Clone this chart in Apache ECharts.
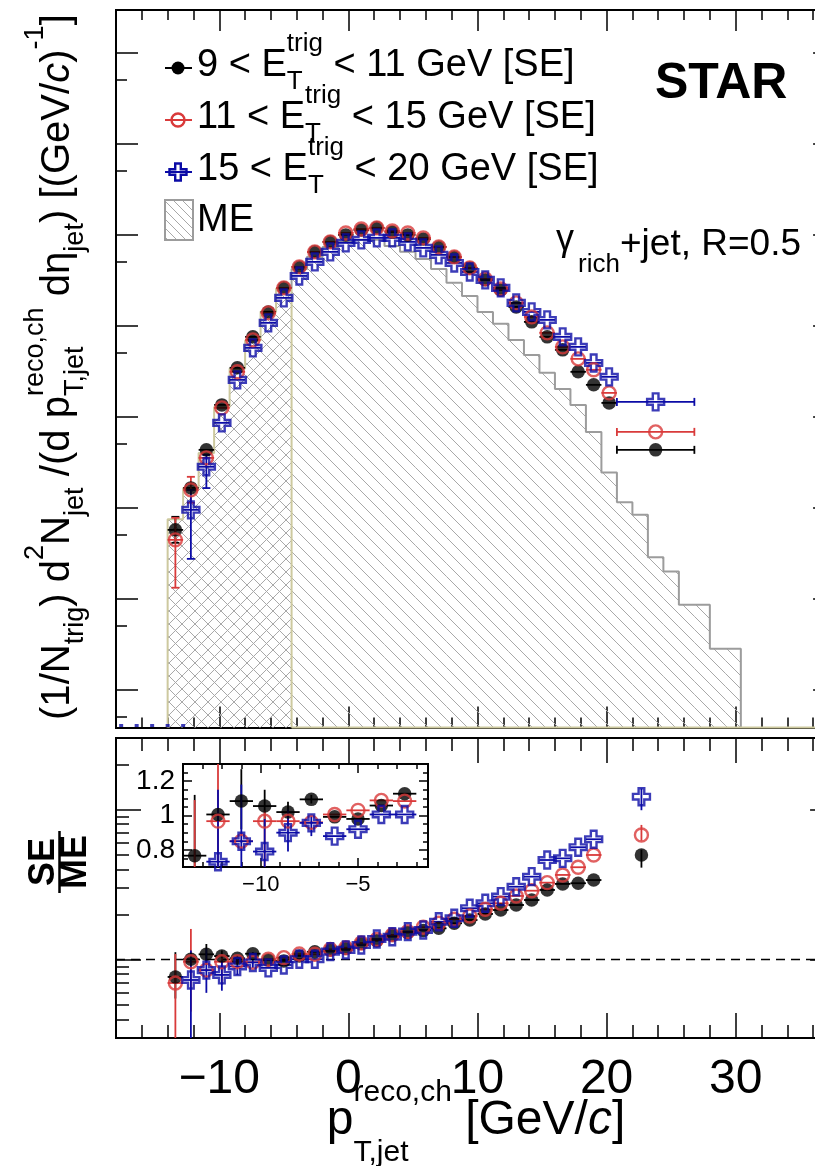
<!DOCTYPE html>
<html><head><meta charset="utf-8">
<script src="https://cdn.jsdelivr.net/npm/echarts@6/dist/echarts.min.js"></script>
<style>html,body{margin:0;padding:0;background:#fff}#c{width:815px;height:1166px}</style>
</head><body><div id="c"></div>
<script>
// ---------------- data ----------------
const binCenters = [-13.4,-12.2,-11.0,-9.8,-8.6,-7.4,-6.2,-5.0,-3.8,-2.6,-1.4,-0.2,1.0,2.2,3.4,4.6,5.8,7.0,8.2,9.4,10.6,11.8,13.0,14.2,15.4,16.6,17.8,19.0,20.2];
const binHalf = 0.6;
const seBlack = [5.70e-5,1.648e-4,4.31e-4,1.343e-3,3.43e-3,7.50e-3,0.01409,0.02588,0.04397,0.0643,0.0828,0.0988,0.112,0.118,0.1065,0.0988,0.0893,0.0729,0.0566,0.0429,0.0317,0.0246,0.0160,0.01096,7.50e-3,5.40e-3,3.10e-3,2.23e-3,1.413e-3];
const seRed = [4.43e-5,1.567e-4,3.52e-4,1.245e-3,3.10e-3,6.95e-3,0.01374,0.02588,0.04397,0.0643,0.0828,0.1038,0.1148,0.118,0.1092,0.1038,0.0916,0.0729,0.0566,0.0429,0.0325,0.0252,0.0177,0.01242,8.30e-3,5.82e-3,4.30e-3,3.26e-3,1.82e-3];
const seBlue = [null,9.46e-5,2.81e-4,8.53e-4,2.53e-3,5.68e-3,0.01069,0.0201,0.0350,0.0499,0.0643,0.0807,0.0871,0.0916,0.0916,0.0828,0.0711,0.0596,0.0486,0.0387,0.0317,0.0259,0.0177,0.01409,0.01151,7.50e-3,5.82e-3,3.88e-3,2.73e-3];
// empty blue bins drawn at the bottom edge
const blueEmptyX = [-17.6, -16.4, -15.2, -14.0, -12.8];
// last wide bin [20.8, 26.8]
const wideBin = [20.8, 23.8, 26.8];
const wideSE = {black: 4.31e-4, red: 6.79e-4, blue: 1.449e-3};
// visible vertical error bars: index -> [low, high]
const seBlackErr = {0: [4.11e-5, 7.93e-5]};
const seRedErr = {0: [1.32e-5, 7.73e-5], 1: [1.13e-4, 2.18e-4]};
const seBlueErr = {1: [2.74e-5, 1.567e-4], 2: [1.64e-4, 3.80e-4]};

// mixed-event histogram
const meEdges = [-14,-12.8,-11.6,-10.4,-9.2,-8.0,-6.8,-5.6,-4.4,-3.2,-2.0,-0.8,0.4,1.6,2.8,4.0,5.2,6.4,7.6,8.8,10.0,11.2,12.4,13.6,14.8,16.0,17.2,18.4,19.6,20.8,22.0,23.2,24.4,25.6,26.8,28.0,29.2,30.4];
const meValues = [7.45e-5,1.64e-4,3.97e-4,1.274e-3,3.36e-3,6.84e-3,0.01422,0.02553,0.04159,0.05702,0.07295,0.08279,0.0871,0.0871,0.0748,0.0643,0.0538,0.0418,0.0294,0.0211,0.01409,0.01042,6.95e-3,4.75e-3,3.02e-3,2.01e-3,1.343e-3,6.79e-4,2.43e-4,1.149e-4,8.34e-5,2.86e-5,1.99e-5,8.57e-6,8.57e-6,2.82e-6,2.82e-6];
const meCrossBins = 8;

// SE/ME ratios
const ratioX = binCenters.slice(0, 28);
const ratioBlack = [0.766,1.006,1.084,1.055,1.02,1.094,0.992,0.98,1.058,1.127,1.159,1.189,1.284,1.337,1.459,1.516,1.563,1.616,1.746,1.836,2.015,2.140,2.311,2.495,2.912,3.194,3.228,3.39];
const ratioRed = [0.698,0.967,0.85,0.967,0.967,0.96,1.006,1.03,1.088,1.084,1.17,1.20,1.29,1.36,1.46,1.535,1.642,1.746,1.856,1.953,2.164,2.373,2.655,2.878,3.256,3.666,4.126,4.98];
const ratioBlue = [null,0.731,0.85,0.79,0.90,0.957,0.88,0.92,1.006,1.006,1.13,1.16,1.25,1.37,1.42,1.535,1.575,1.788,1.885,2.199,2.373,2.628,3.06,3.57,4.61,4.73,5.61,6.34];
const ratioBlackErr = {0:[0.55,1.12], 2:[0.92,1.27], 3:[0.93,1.15], 4:[0.94,1.08], 5:[1.07,1.12]};
const ratioRedErr = {0:[0.01,1.09], 1:[0.45,1.6], 3:[0.68,1.03], 4:[0.93,1.0]};
const ratioBlueErr = {1:[0.01,1.15], 2:[0.6,1.18], 3:[0.62,0.98], 4:[0.79,1.035], 5:[0.88,0.996]};
const ratioIsoX = 22.7;
const ratioIso = {black: 4.98, red: 6.77, blue: 12.18};
const ratioIsoErr = {black: [4.1, 5.4], red: [6.2, 7.9], blue: [9.9, 13.8]};
const unityLine = [1];

// axes / ticks
const xRange = [-18, 37.7];
const topYRange = [3.855e-7, 29.1];
const ratioYRange = [0.3, 30];
const insetXRange = [-14, -1.4];
const insetYRange = [0.7, 1.3];
const xMajor = [-10, 0, 10, 20, 30];
const topDecades = [1e-6,1e-5,1e-4,1e-3,1e-2,1e-1,1,10];
const topMinor = [5e-7,5e-6,5e-5,5e-4,5e-3,5e-2,0.5,5];
const ratioMajor = [1, 10];
const ratioMinor = [0.3,0.4,0.5,0.6,0.7,0.8,0.9,2,3,4,5,6,7,8,9,20,30];
const insetXMajor = [-10, -5];
const insetXMinor = [-13,-12,-11,-9,-8,-7,-6,-4,-3,-2];
const insetYMajor = [0.8, 1, 1.2];
const insetYMinor = [0.75,0.85,0.9,0.95,1.05,1.1,1.15,1.25];

// ---------------- style ----------------
const FONT = '"Liberation Sans", Arial, Helvetica, sans-serif';
const C_BLACK = '#000000', C_RED = '#d93a3a', C_BLUE = '#0b0ba6';
const C_KHAKI = '#cdc99f', C_ME = '#9c9c9c', C_HATCH = '#a8a8a8';
const CROSS = 'path://M1,0L2,0L2,1L3,1L3,2L2,2L2,3L1,3L1,2L0,2L0,1L1,1Z';
const minus = v => (v < 0 ? '\u2212' + Math.abs(v) : String(v));

// ---------------- helpers ----------------
function mk(p) {
  const a = {
    gridIndex: p.g, position: p.pos, type: p.type || 'value', min: p.min, max: p.max,
    splitLine: {show: false}, splitArea: {show: false}, minorTick: {show: false}, minorSplitLine: {show: false},
    axisLine: {show: !!p.line, onZero: false, lineStyle: {color: '#000', width: 2, cap: 'square'}},
    axisTick: {show: true, inside: true, length: p.len, lineStyle: {color: '#000', width: 1.5}},
    axisLabel: {show: false}, axisPointer: {show: false}, silent: true
  };
  if (p.type === 'log') a.logBase = 10;
  if (p.ticks) a.axisTick.customValues = p.ticks;
  if (p.interval) a.interval = p.interval;
  if (p.label) a.axisLabel = p.label;
  return a;
}

function errRender(color, lw) {
  return function (params, api) {
    const cs = params.coordSys;
    const L = cs.x, R = cs.x + cs.width, T = cs.y, B = cs.y + cs.height;
    const x = api.value(0), y = api.value(1);
    const p = api.coord([x, y]);
    if (!(p[0] >= L - 1 && p[0] <= R + 1)) return;
    const ch = [];
    const st = {stroke: color, lineWidth: lw};
    const cy = v => Math.min(Math.max(v, T), B), cx = v => Math.min(Math.max(v, L), R);
    const ylo = api.value(2), yhi = api.value(3), xlo = api.value(4), xhi = api.value(5);
    const hcap = api.value(6), vcap = api.value(7);
    if (!isNaN(ylo) && !isNaN(yhi)) {
      const a = api.coord([x, ylo])[1], b = api.coord([x, yhi])[1];
      const ya = cy(a), yb = cy(b);
      if (ya !== yb) ch.push({type: 'line', shape: {x1: p[0], y1: ya, x2: p[0], y2: yb}, style: st});
      if (vcap === 1) {
        [a, b].forEach(v => { if (v >= T && v <= B) ch.push({type: 'line', shape: {x1: p[0] - 4, y1: v, x2: p[0] + 4, y2: v}, style: st}); });
      }
    }
    if (!isNaN(xlo) && !isNaN(xhi) && p[1] >= T && p[1] <= B) {
      const a = api.coord([xlo, y])[0], b = api.coord([xhi, y])[0];
      ch.push({type: 'line', shape: {x1: cx(a), y1: p[1], x2: cx(b), y2: p[1]}, style: st});
      if (hcap === 1) {
        [a, b].forEach(v => { if (v >= L && v <= R) ch.push({type: 'line', shape: {x1: v, y1: p[1] - 4, x2: v, y2: p[1] + 4}, style: st}); });
      }
    }
    return {type: 'group', children: ch};
  };
}
function errSeries(xi, yi, items, color) {
  return {type: 'custom', xAxisIndex: xi, yAxisIndex: yi, silent: true, z: 3,
    encode: {x: 0, y: 1}, data: items, renderItem: errRender(color, 1.8)};
}
function markerSeries(xi, yi, pts, kind) {
  const s = {type: 'scatter', xAxisIndex: xi, yAxisIndex: yi, silent: true, z: 4, clip: true, data: pts};
  if (kind === 'black') { s.symbol = 'circle'; s.symbolSize = 13.5; s.itemStyle = {color: C_BLACK}; }
  if (kind === 'red') { s.symbol = 'circle'; s.symbolSize = 13; s.itemStyle = {color: 'rgba(0,0,0,0)', borderColor: C_RED, borderWidth: 2.4}; }
  if (kind === 'blue') { s.symbol = CROSS; s.symbolSize = 17; s.itemStyle = {color: 'rgba(0,0,0,0)', borderColor: C_BLUE, borderWidth: 2.4}; }
  return s;
}
function hatchLines(x0, y0, x1, y1, dir, S, out, color, lw) {
  const st = {stroke: color, lineWidth: lw};
  if (dir > 0) { // "\" : y - x = c
    const cmin = Math.ceil((y0 - x1) / S), cmax = Math.floor((y1 - x0) / S);
    for (let k = cmin; k <= cmax; k++) {
      const c = k * S;
      const xa = Math.max(x0, y0 - c), xb = Math.min(x1, y1 - c);
      if (xb > xa) out.push({type: 'line', shape: {x1: xa, y1: xa + c, x2: xb, y2: xb + c}, style: st});
    }
  } else { // "/" : y + x = c
    const cmin = Math.ceil((x0 + y0) / S), cmax = Math.floor((x1 + y1) / S);
    for (let k = cmin; k <= cmax; k++) {
      const c = k * S;
      const xa = Math.max(x0, c - y1), xb = Math.min(x1, c - y0);
      if (xb > xa) out.push({type: 'line', shape: {x1: xa, y1: c - xa, x2: xb, y2: c - xb}, style: st});
    }
  }
}

// text layout helpers
const mctx = document.createElement('canvas').getContext('2d');
function measure(t, s, it, b) { mctx.font = (it ? 'italic ' : '') + (b ? 'bold ' : '') + s + 'px ' + FONT; return mctx.measureText(t).width; }
function txt(t, x, base, s, o) {
  o = o || {};
  return {type: 'text', x: x, y: base - 0.3465 * s, silent: true, z: 50,
    style: {text: t, fontSize: s, fontFamily: FONT, fontStyle: o.it ? 'italic' : 'normal', fontWeight: o.b ? 'bold' : 'normal',
      fill: o.color || '#000', align: o.align || 'left', verticalAlign: 'middle'}};
}
function layout(segs, x, base, k) {
  k = k || 1;
  const out = []; let cx = x;
  for (const sg of segs) {
    if (sg.stack) {
      let w = 0;
      sg.stack.forEach(a => { out.push(txt(a.t, cx, base + (a.dy || 0) * k, a.s * k, a)); w = Math.max(w, measure(a.t, a.s * k, a.it, a.b)); });
      cx += w;
    } else {
      out.push(txt(sg.t, cx, base + (sg.dy || 0) * k, sg.s * k, sg));
      cx += measure(sg.t, sg.s * k, sg.it, sg.b);
    }
  }
  return {els: out, width: cx - x};
}

// ---------------- series data ----------------
function errItems(xs, vals, errs, xerr, vcap, xr) {
  const out = [];
  xs.forEach((x, i) => {
    if (vals[i] == null) return;
    if (xr && !(x > xr[0] && x < xr[1])) return;
    const e = errs[i];
    out.push([x, vals[i], e ? e[0] : null, e ? e[1] : null, xerr ? x - binHalf : null, xerr ? x + binHalf : null, 0, vcap]);
  });
  return out;
}
const pts = (xs, vals, xr) => xs.map((x, i) => [x, vals[i]]).filter(p => p[1] != null && (!xr || (p[0] > xr[0] && p[0] < xr[1])));

const series = [];
// ME hatch
series.push({
  type: 'custom', xAxisIndex: 0, yAxisIndex: 0, silent: true, z: 1,
  encode: {x: [0, 1], y: 2},
  data: meValues.map((v, i) => [meEdges[i], meEdges[i + 1], v, i < meCrossBins ? 1 : 0]),
  renderItem: function (params, api) {
    const cs = params.coordSys;
    const pL = api.coord([api.value(0), api.value(2)]), pR = api.coord([api.value(1), api.value(2)]);
    const x0 = Math.max(pL[0], cs.x), x1 = Math.min(pR[0], cs.x + cs.width);
    const y0 = Math.max(pL[1], cs.y), y1 = cs.y + cs.height;
    if (!(x1 > x0 && y1 > y0)) return;
    const ch = [];
    hatchLines(x0, y0, x1, y1, 1, 13, ch, C_HATCH, 1);
    if (api.value(3) === 1) hatchLines(x0, y0, x1, y1, -1, 13, ch, C_HATCH, 1);
    return {type: 'group', children: ch};
  }
});
// ME outlines
const ymin = topYRange[0];
const leftOutline = [[meEdges[0], ymin]];
for (let i = 0; i < meCrossBins; i++) leftOutline.push([meEdges[i], meValues[i]]);
leftOutline.push([meEdges[meCrossBins], meValues[meCrossBins - 1]]);
leftOutline.push([meEdges[meCrossBins], ymin]);
const rightOutline = [[meEdges[meCrossBins], meValues[meCrossBins - 1]]];
for (let i = meCrossBins; i < meValues.length; i++) rightOutline.push([meEdges[i], meValues[i]]);
rightOutline.push([meEdges[meEdges.length - 1], meValues[meValues.length - 1]]);
rightOutline.push([meEdges[meEdges.length - 1], ymin]);
series.push({type: 'line', xAxisIndex: 0, yAxisIndex: 0, step: 'end', data: rightOutline, symbol: 'none', clip: false, silent: true, z: 2,
  lineStyle: {color: C_ME, width: 2}});
series.push({type: 'line', xAxisIndex: 0, yAxisIndex: 0, data: [[meEdges[meCrossBins], ymin], [xRange[1], ymin]], symbol: 'none', clip: false, silent: true, z: 2,
  lineStyle: {color: C_KHAKI, width: 2.2}});
series.push({type: 'line', xAxisIndex: 0, yAxisIndex: 0, step: 'end', data: leftOutline, symbol: 'none', clip: false, silent: true, z: 2,
  lineStyle: {color: C_KHAKI, width: 2}});
// empty blue bins at the bottom edge
series.push({type: 'scatter', xAxisIndex: 0, yAxisIndex: 0, silent: true, z: 4, clip: false,
  data: blueEmptyX.map(x => [x, ymin]), symbol: 'rect', symbolSize: [4, 3], symbolOffset: [0, -2], itemStyle: {color: C_BLUE}});

// top panel points
const wideItem = (v) => [wideBin[1], v, null, null, wideBin[0], wideBin[2], 1, 0];
series.push(errSeries(0, 0, errItems(binCenters, seBlack, seBlackErr, true, 1).concat([wideItem(wideSE.black)]), C_BLACK));
series.push(markerSeries(0, 0, pts(binCenters, seBlack).concat([[wideBin[1], wideSE.black]]), 'black'));
series.push(errSeries(0, 0, errItems(binCenters, seRed, seRedErr, true, 1).concat([wideItem(wideSE.red)]), C_RED));
series.push(markerSeries(0, 0, pts(binCenters, seRed).concat([[wideBin[1], wideSE.red]]), 'red'));
series.push(errSeries(0, 0, errItems(binCenters, seBlue, seBlueErr, true, 1).concat([wideItem(wideSE.blue)]), C_BLUE));
series.push(markerSeries(0, 0, pts(binCenters, seBlue).concat([[wideBin[1], wideSE.blue]]), 'blue'));

// ratio panel
series.push({type: 'line', xAxisIndex: 4, yAxisIndex: 4, data: [[xRange[0], unityLine[0]], [xRange[1], unityLine[0]]], symbol: 'none', silent: true, z: 2,
  lineStyle: {color: '#000', width: 1.6, type: [9, 6]}});
const isoItem = (c) => [ratioIsoX, ratioIso[c], ratioIsoErr[c][0], ratioIsoErr[c][1], null, null, 0, 0];
[[4, 4, null], [8, 8, insetXRange]].forEach(([xi, yi, xr]) => {
  const inset = !!xr;
  series.push(errSeries(xi, yi, errItems(ratioX, ratioBlack, ratioBlackErr, true, 0, xr).concat(inset ? [] : [isoItem('black')]), C_BLACK));
  series.push(markerSeries(xi, yi, pts(ratioX, ratioBlack, xr).concat(inset ? [] : [[ratioIsoX, ratioIso.black]]), 'black'));
  series.push(errSeries(xi, yi, errItems(ratioX, ratioRed, ratioRedErr, true, 0, xr).concat(inset ? [] : [isoItem('red')]), C_RED));
  series.push(markerSeries(xi, yi, pts(ratioX, ratioRed, xr).concat(inset ? [] : [[ratioIsoX, ratioIso.red]]), 'red'));
  series.push(errSeries(xi, yi, errItems(ratioX, ratioBlue, ratioBlueErr, true, 0, xr).concat(inset ? [] : [isoItem('blue')]), C_BLUE));
  series.push(markerSeries(xi, yi, pts(ratioX, ratioBlue, xr).concat(inset ? [] : [[ratioIsoX, ratioIso.blue]]), 'blue'));
});

// ---------------- axes ----------------
const xAxis = [
  mk({g: 0, pos: 'bottom', min: xRange[0], max: xRange[1], interval: 2, len: 10, line: true}),
  mk({g: 0, pos: 'bottom', min: xRange[0], max: xRange[1], ticks: xMajor, len: 21}),
  mk({g: 0, pos: 'top', min: xRange[0], max: xRange[1], interval: 2, len: 10, line: true}),
  mk({g: 0, pos: 'top', min: xRange[0], max: xRange[1], ticks: xMajor, len: 21}),
  mk({g: 1, pos: 'bottom', min: xRange[0], max: xRange[1], interval: 2, len: 13, line: true}),
  mk({g: 1, pos: 'bottom', min: xRange[0], max: xRange[1], ticks: xMajor, len: 25,
      label: {show: true, customValues: xMajor, formatter: minus, fontSize: 48, fontFamily: FONT, color: '#000', margin: 18}}),
  mk({g: 1, pos: 'top', min: xRange[0], max: xRange[1], interval: 2, len: 13, line: true}),
  mk({g: 1, pos: 'top', min: xRange[0], max: xRange[1], ticks: xMajor, len: 25}),
  mk({g: 2, pos: 'bottom', min: insetXRange[0], max: insetXRange[1], ticks: insetXMinor, len: 5, line: true}),
  mk({g: 2, pos: 'bottom', min: insetXRange[0], max: insetXRange[1], ticks: insetXMajor, len: 9,
      label: {show: true, customValues: insetXMajor, formatter: minus, fontSize: 22, fontFamily: FONT, color: '#000', margin: 7}}),
  mk({g: 2, pos: 'top', min: insetXRange[0], max: insetXRange[1], ticks: insetXMinor, len: 5, line: true}),
  mk({g: 2, pos: 'top', min: insetXRange[0], max: insetXRange[1], ticks: insetXMajor, len: 9})
];
const yAxis = [
  mk({g: 0, pos: 'left', type: 'log', min: topYRange[0], max: topYRange[1], ticks: topDecades, len: 22, line: true}),
  mk({g: 0, pos: 'left', type: 'log', min: topYRange[0], max: topYRange[1], ticks: topMinor, len: 11}),
  mk({g: 0, pos: 'right', type: 'log', min: topYRange[0], max: topYRange[1], ticks: topDecades, len: 22, line: true}),
  mk({g: 0, pos: 'right', type: 'log', min: topYRange[0], max: topYRange[1], ticks: topMinor, len: 11}),
  mk({g: 1, pos: 'left', type: 'log', min: ratioYRange[0], max: ratioYRange[1], ticks: ratioMajor, len: 25, line: true}),
  mk({g: 1, pos: 'left', type: 'log', min: ratioYRange[0], max: ratioYRange[1], ticks: ratioMinor, len: 13}),
  mk({g: 1, pos: 'right', type: 'log', min: ratioYRange[0], max: ratioYRange[1], ticks: ratioMajor, len: 25, line: true}),
  mk({g: 1, pos: 'right', type: 'log', min: ratioYRange[0], max: ratioYRange[1], ticks: ratioMinor, len: 13}),
  mk({g: 2, pos: 'left', min: insetYRange[0], max: insetYRange[1], ticks: insetYMajor, len: 9, line: true,
      label: {show: true, customValues: insetYMajor, formatter: v => String(v), fontSize: 28, fontFamily: FONT, color: '#000', margin: 8}}),
  mk({g: 2, pos: 'left', min: insetYRange[0], max: insetYRange[1], ticks: insetYMinor, len: 5}),
  mk({g: 2, pos: 'right', min: insetYRange[0], max: insetYRange[1], ticks: insetYMajor, len: 9, line: true}),
  mk({g: 2, pos: 'right', min: insetYRange[0], max: insetYRange[1], ticks: insetYMinor, len: 5})
];

// ---------------- texts / legend ----------------
const G = [];
const legRows = [
  {y: 68, base: 79, kind: 'black', lo: '9', hi: '11'},
  {y: 120, base: 131, kind: 'red', lo: '11', hi: '15'},
  {y: 172, base: 183, kind: 'blue', lo: '15', hi: '20'}
];
legRows.forEach(r => {
  const col = r.kind === 'black' ? C_BLACK : (r.kind === 'red' ? C_RED : C_BLUE);
  G.push({type: 'line', z: 50, silent: true, shape: {x1: 165, y1: r.y, x2: 192, y2: r.y}, style: {stroke: col, lineWidth: 2}});
  if (r.kind === 'black') G.push({type: 'circle', z: 51, silent: true, shape: {cx: 178, cy: r.y, r: 6.5}, style: {fill: C_BLACK}});
  if (r.kind === 'red') G.push({type: 'circle', z: 51, silent: true, shape: {cx: 178, cy: r.y, r: 6.5}, style: {fill: null, stroke: C_RED, lineWidth: 2.4}});
  if (r.kind === 'blue') {
    const cx = 178, cy = r.y, a = 2.8, L = 8.5;
    G.push({type: 'polygon', z: 51, silent: true, shape: {points: [[cx-a,cy-L],[cx+a,cy-L],[cx+a,cy-a],[cx+L,cy-a],[cx+L,cy+a],[cx+a,cy+a],[cx+a,cy+L],[cx-a,cy+L],[cx-a,cy+a],[cx-L,cy+a],[cx-L,cy-a],[cx-a,cy-a]]},
      style: {fill: null, stroke: C_BLUE, lineWidth: 2.4}});
  }
  const segs = [{t: r.lo + ' < E', s: 38}, {stack: [{t: 'trig', s: 26, dy: -26}, {t: 'T', s: 26, dy: 12}]}, {t: ' < ' + r.hi + ' GeV [SE]', s: 38}];
  layout(segs, 197, r.base).els.forEach(e => G.push(e));
});
// ME legend box
(function () {
  const x0 = 165, y0 = 200, x1 = 193, y1 = 240, ch = [];
  hatchLines(x0, y0, x1, y1, 1, 9, ch, C_HATCH, 1);
  ch.forEach(c => { c.z = 50; c.silent = true; G.push(c); });
  G.push({type: 'rect', z: 51, silent: true, shape: {x: x0, y: y0, width: x1 - x0, height: y1 - y0}, style: {fill: null, stroke: C_ME, lineWidth: 2}});
  G.push(txt('ME', 197, 234, 38));
})();
// STAR
G.push(txt('STAR', 655, 102, 50, {b: true}));
// gamma_rich + jet
G.push(txt('\u03B3', 556, 253, 36));
G.push(txt('rich', 578, 274, 26));
G.push(txt('+jet, R=0.5', 620, 258, 37));

// x title
(function () {
  const segs = [{t: 'p', s: 48}, {stack: [{t: 'reco,ch', s: 30, dy: -34}, {t: 'T,jet', s: 30, dy: 26}]},
    {t: ' [GeV/', s: 48}, {t: 'c', s: 48, it: true}, {t: ']', s: 48}];
  const w = layout(segs, 0, 0).width;
  layout(segs, 476 - w / 2, 1137).els.forEach(e => G.push(e));
})();
// y title (rotated)
(function () {
  const M = 40, S = 27, SUP = -27, SUB = 13;
  const segs = [
    {t: '(1/N', s: M}, {t: 'trig', s: S, dy: SUB}, {t: ') d', s: M}, {t: '2', s: S, dy: SUP},
    {t: 'N', s: M}, {t: 'jet', s: S, dy: SUB}, {t: ' /(d p', s: M},
    {stack: [{t: 'reco,ch', s: S, dy: SUP}, {t: 'T,jet', s: S, dy: SUB}]},
    {t: ' d\u03B7', s: M}, {t: 'jet', s: S, dy: SUB}, {t: ') [(GeV/', s: M}, {t: 'c', s: M, it: true},
    {t: ')', s: M}, {t: '-1', s: S, dy: SUP}, {t: ']', s: M}
  ];
  const w0 = layout(segs, 0, 0).width;
  const k = 706 / w0;
  G.push({type: 'group', x: 72, y: 720, rotation: Math.PI / 2, silent: true, z: 50, children: layout(segs, 0, 0, k).els});
})();
// SE / ME fraction (rotated)
G.push({type: 'group', x: 59.5, y: 862, rotation: Math.PI / 2, silent: true, z: 50, children: [
  txt('SE', 0, -3, 36, {b: true, align: 'center'}),
  txt('ME', 0, 29, 36, {b: true, align: 'center'}),
  {type: 'line', shape: {x1: -31, y1: 0, x2: 31, y2: 0}, style: {stroke: '#000', lineWidth: 2.5}}
]});

const gridW = (xRange[1] - xRange[0]) * 12.91;
const option = {
  animation: false,
  backgroundColor: '#ffffff',
  textStyle: {fontFamily: FONT},
  grid: [
    {left: 116, top: 10, width: gridW, height: 717.5, outerBoundsMode: 'none', containLabel: false},
    {left: 116, top: 738, width: gridW, height: 300, outerBoundsMode: 'none', containLabel: false},
    {left: 183, top: 764, width: 245, height: 103, outerBoundsMode: 'none', containLabel: false, show: true, backgroundColor: '#ffffff', borderWidth: 0}
  ],
  xAxis: xAxis,
  yAxis: yAxis,
  series: series,
  graphic: {elements: G}
};
const chart = echarts.init(document.getElementById('c'), null, {renderer: 'canvas', width: 815, height: 1166});
chart.setOption(option);
</script></body></html>
